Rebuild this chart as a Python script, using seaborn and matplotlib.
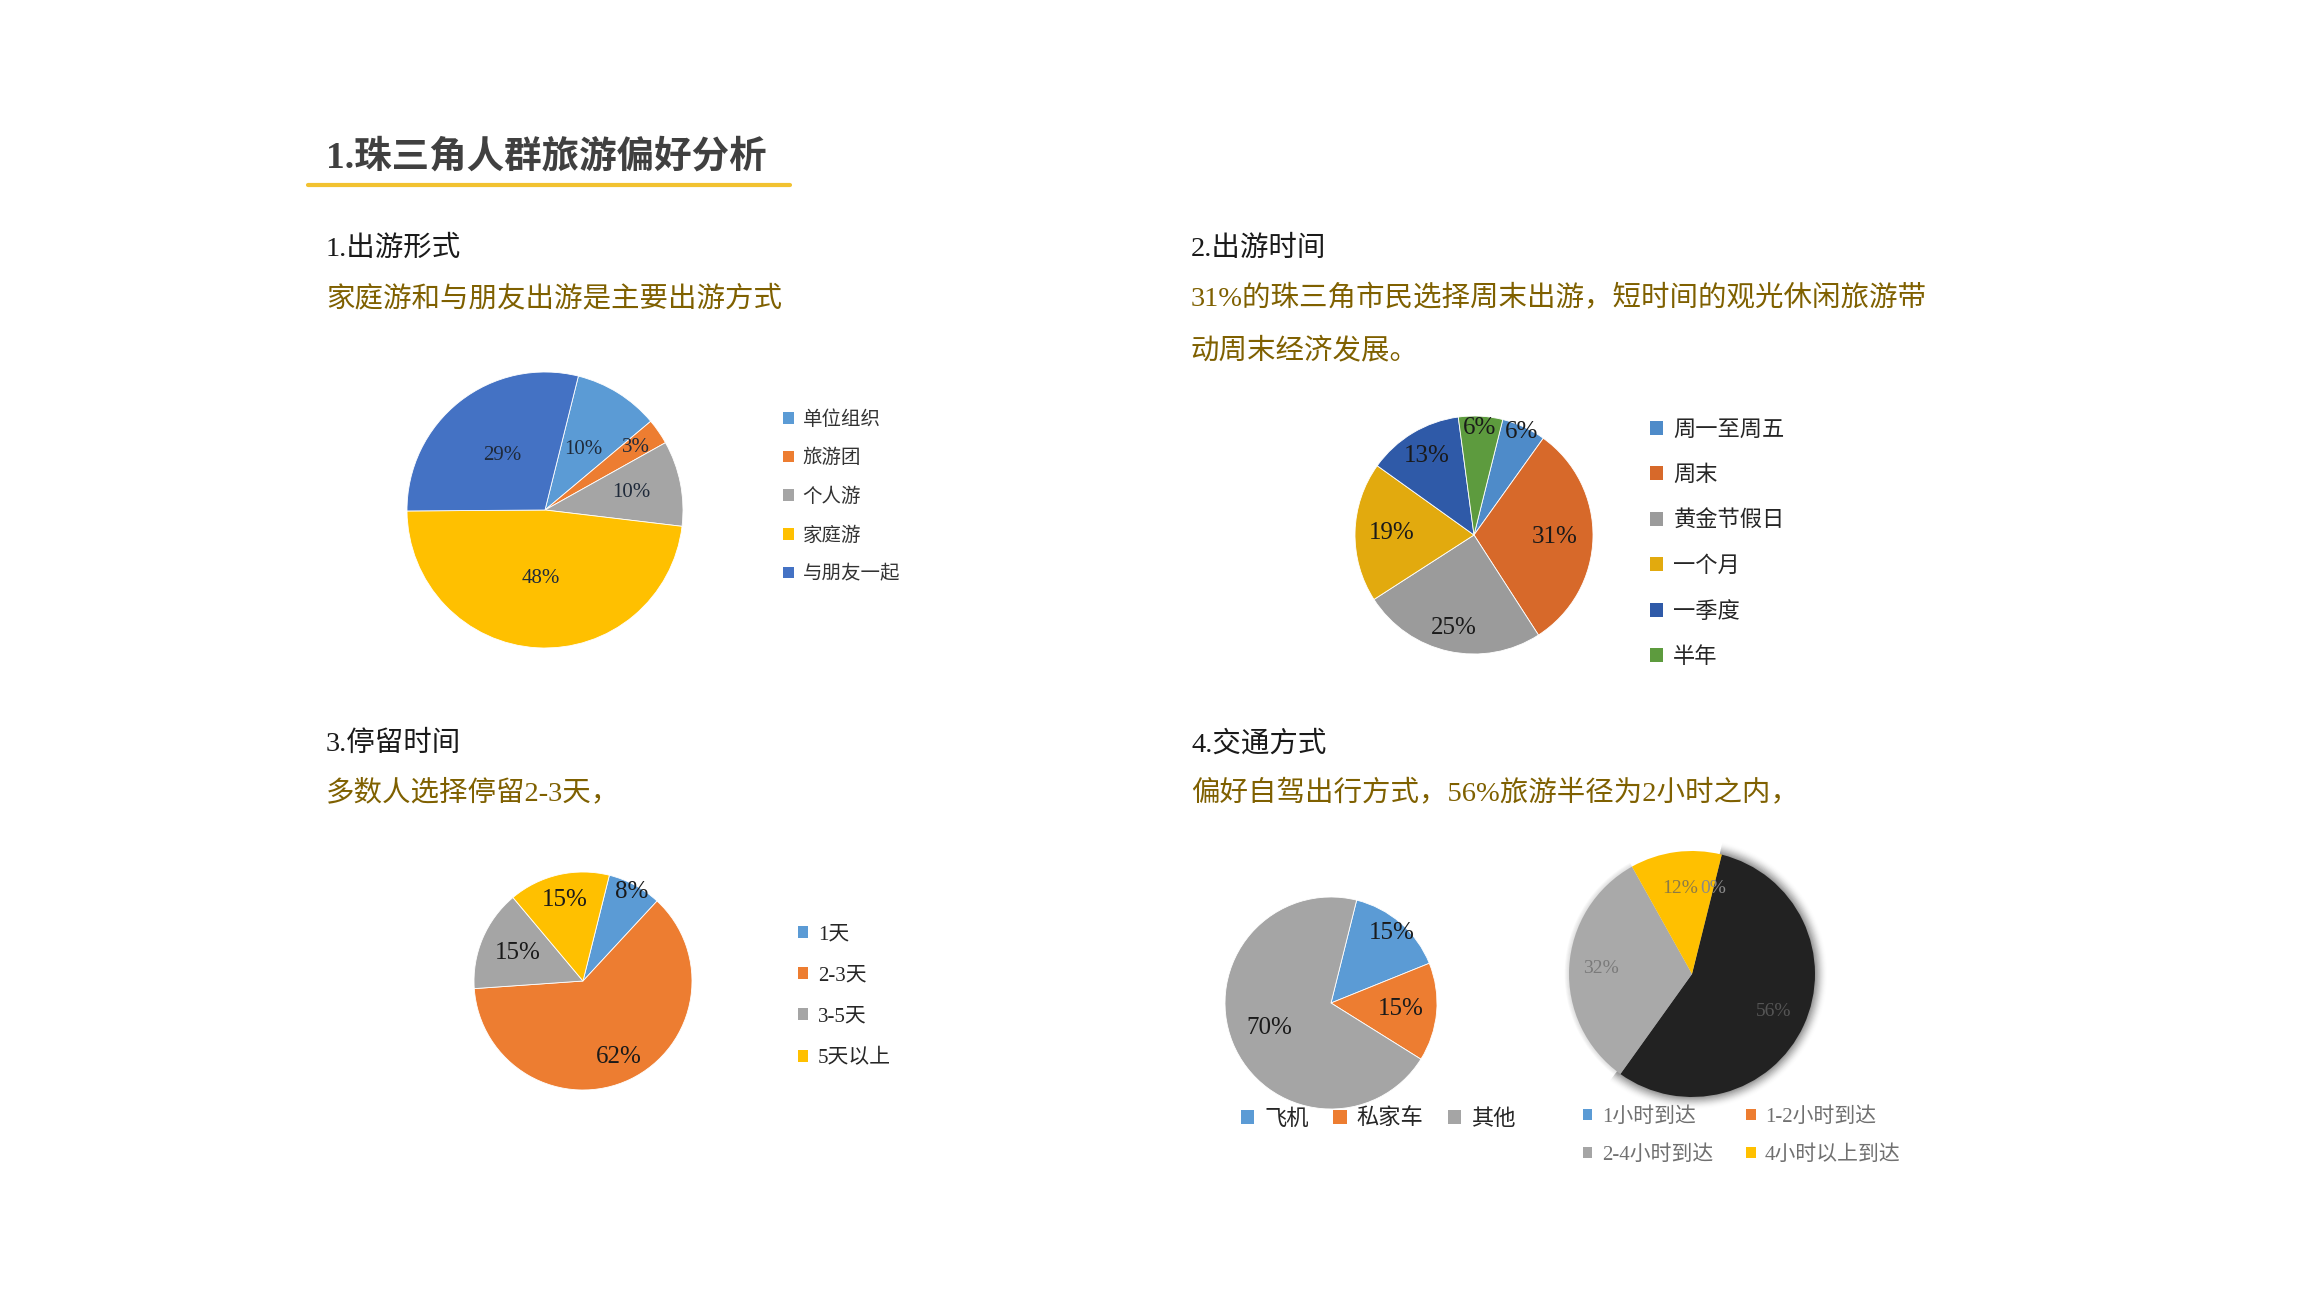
import numpy as np
import matplotlib
matplotlib.use("Agg")
import matplotlib.pyplot as plt
import seaborn as sns
from matplotlib.patches import Patch, Wedge
from matplotlib.lines import Line2D

# data
form_labels = ["单位组织", "旅游团", "个人游", "家庭游", "与朋友一起"]
form_values = [10, 3, 10, 48, 29]

time_labels = ["周一至周五", "周末", "黄金节假日", "一个月", "一季度", "半年"]
time_values = [6, 31, 25, 19, 13, 6]

stay_labels = ["1天", "2-3天", "3-5天", "5天以上"]
stay_values = [8, 62, 15, 15]

traffic_labels = ["飞机", "私家车", "其他"]
traffic_values = [15, 15, 70]

reach_labels = ["1小时到达", "1-2小时到达", "2-4小时到达", "4小时以上到达"]
reach_values = [0, 56, 32, 12]

sns.set_theme(style="white")
plt.rcParams["font.family"] = ["Liberation Serif", "Noto Sans CJK SC"]

W, H = 2304, 1296
fig = plt.figure(figsize=(W / 100, H / 100), dpi=100)
fig.patch.set_facecolor("white")

office = sns.color_palette(["#5B9BD5", "#ED7D31", "#A5A5A5", "#FFC000", "#4472C4", "#70AD47"])
time_colors = sns.color_palette(["#4E8BC9", "#D7692A", "#9B9B9B", "#E2AA0E", "#2F5AA8", "#5D9B3E"])
olive = "#7F6000"


def put_text(x, y, s, size, color="#1a1a1a", weight="normal"):
    # y is the visual middle of the line; mixed fonts sit a bit high, hence the +4
    fig.text(x / W, 1 - (y + 4) / H, s, fontsize=size, color=color, weight=weight,
             ha="left", va="center")


def pie_axes(cx, cy, r, pad=1.0):
    ax = fig.add_axes([(cx - r * pad) / W, 1 - (cy + r * pad) / H, 2 * r * pad / W, 2 * r * pad / H])
    return ax


def draw_pie(ax, values, colors, dists, size, txt_colors, pad=1.0):
    wedges, _, autotexts = ax.pie(values, colors=colors, startangle=76, counterclock=False,
                                  autopct=lambda p: f"{p:.0f}%",
                                  wedgeprops=dict(linewidth=0.6, edgecolor="white"))
    for w, t, d, c in zip(wedges, autotexts, dists, txt_colors):
        ang = np.deg2rad((w.theta1 + w.theta2) / 2)
        t.set_position((d * np.cos(ang), d * np.sin(ang)))
        t.set_fontsize(size)
        t.set_color(c)
    ax.set_xlim(-pad, pad)
    ax.set_ylim(-pad, pad)
    ax.set_aspect("equal")
    return wedges


def add_legend(labels, colors, x, y, size, spacing, ncol=1, colspace=1.0, color="#262626",
               hsize=0.55, order=None):
    handles = [Patch(facecolor=c, edgecolor="none") for c in colors]
    labels = list(labels)
    if order is not None:
        handles = [handles[i] for i in order]
        labels = [labels[i] for i in order]
    fig.legend(handles, labels, loc="upper left", bbox_to_anchor=(x / W, 1 - y / H),
               frameon=False, fontsize=size, handlelength=hsize, handleheight=hsize,
               handletextpad=0.45, labelspacing=spacing, borderpad=0, borderaxespad=0,
               ncol=ncol, columnspacing=colspace, labelcolor=color)


# page title
put_text(326, 154, "1.珠三角人群旅游偏好分析", 27, color="#404040", weight="bold")
fig.add_artist(Line2D([308 / W, 790 / W], [1 - 185 / H] * 2, color="#F2C230", lw=3))

# section headings
put_text(326, 245, "1.出游形式", 20.5)
put_text(326, 295, "家庭游和与朋友出游是主要出游方式", 20.5, color=olive)
put_text(1191, 245, "2.出游时间", 20.5)
put_text(1191, 295, "31%的珠三角市民选择周末出游，短时间的观光休闲旅游带", 20.5, color=olive)
put_text(1191, 347, "动周末经济发展。", 20.5, color=olive)
put_text(326, 740, "3.停留时间", 20.5)
put_text(326, 789, "多数人选择停留2-3天，", 20.5, color=olive)
put_text(1191, 740, "4.交通方式", 20.5)
put_text(1191, 789, "偏好自驾出行方式，56%旅游半径为2小时之内，", 20.5, color=olive)

# 1. travel form
ax1 = pie_axes(545, 510, 138)
draw_pie(ax1, form_values, office[:5], [0.52, 0.8, 0.64, 0.5, 0.5], 15, ["#1f2a3a"] * 5)
add_legend(form_labels, office[:5], 783, 410, 14, 1.05, color="#333333")

# 2. travel time
ax2 = pie_axes(1474, 535, 119)
draw_pie(ax2, time_values, time_colors, [0.95, 0.68, 0.8, 0.69, 0.77, 0.9], 18, ["#1a1a1a"] * 6)
add_legend(time_labels, time_colors, 1650, 421, 16, 1.11, hsize=0.6)

# 3. stay length
ax3 = pie_axes(583, 981, 109)
draw_pie(ax3, stay_values, office[:4], [0.93, 0.77, 0.65, 0.76], 18, ["#1a1a1a"] * 4)
add_legend(stay_labels, office[:4], 798, 925, 15, 1.07, hsize=0.5)

# 4a. transport
ax4 = pie_axes(1331, 1003, 106)
draw_pie(ax4, traffic_values, office[:3], [0.88, 0.66, 0.63], 18, ["#1a1a1a"] * 3)
add_legend(traffic_labels, office[:3], 1241, 1109, 16, 0.5, ncol=3, colspace=1.1, hsize=0.6)

# 4b. reach time (the big slice renders dark with a soft blurred edge)
pad = 1.15
ax5 = pie_axes(1692, 974, 123, pad=pad)
reach_fill = [office[0], "#222222", "#A9A9A9", office[3]]
wedges = draw_pie(ax5, reach_values, reach_fill, [0.72, 0.73, 0.74, 0.7], 14,
                  ["#8a8a8a", "#555555", "#7a7a7a", "#8c7a45"], pad=pad)
for w in wedges:
    w.set_edgecolor("none")
dark = wedges[1]
for k in range(1, 12):
    ax5.add_patch(Wedge((0, 0), 1 + 0.009 * k, dark.theta1 - 2, dark.theta2 + 1,
                        color="black", alpha=0.08 * (1 - k / 12), lw=0, zorder=0))
grey = wedges[2]
for k in range(1, 6):
    ax5.add_patch(Wedge((0, 0), 1 + 0.007 * k, grey.theta1, grey.theta2,
                        color="#888888", alpha=0.05, lw=0, zorder=0))
add_legend(reach_labels, office[:4], 1583, 1107, 15, 0.9, ncol=2, colspace=1.6,
           color="#707070", hsize=0.45, order=[0, 2, 1, 3])

fig.savefig("out.png", dpi=100)
